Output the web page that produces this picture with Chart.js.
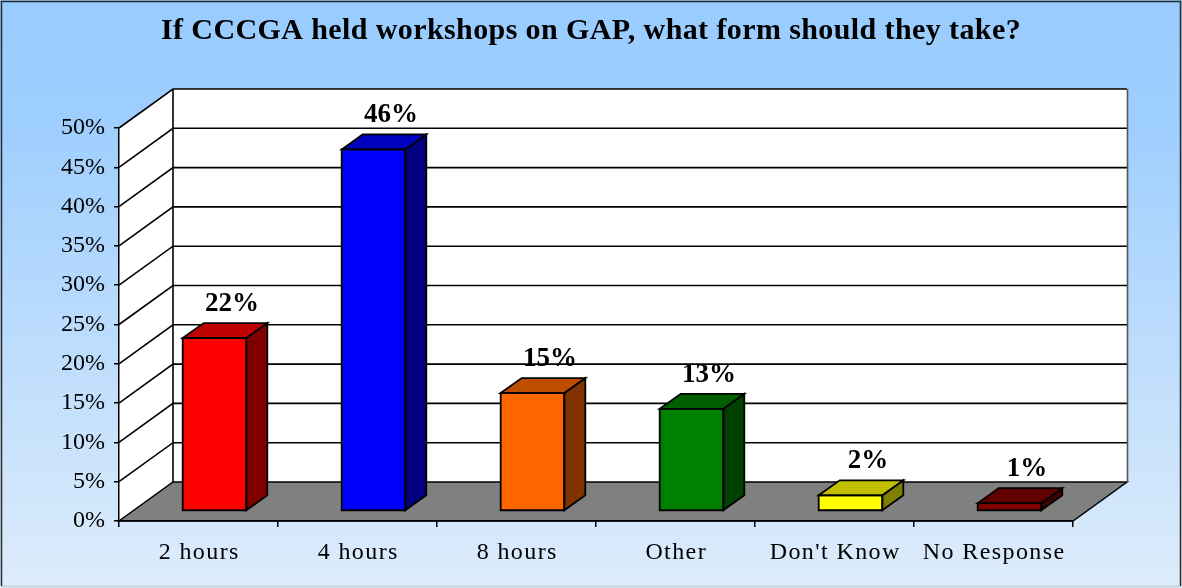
<!DOCTYPE html>
<html>
<head>
<meta charset="utf-8">
<title>CCCGA workshops on GAP</title>
<script src="https://cdn.jsdelivr.net/npm/chart.js@4.4.1/dist/chart.umd.min.js"></script>
<style>
  html, body { margin: 0; padding: 0; background: #fff; }
  canvas { display: block; }
</style>
</head>
<body>
<canvas id="chart" width="1182" height="588"></canvas>
<script>
// Data
const categories = ['2 hours', '4 hours', '8 hours', 'Other', "Don't Know", 'No Response'];
const percentages = [22, 46, 15, 13, 2, 1];
const barColors = ['#FF0000', '#0000FF', '#FF6600', '#008000', '#FFFF00', '#800000'];
const yMin = 0;
const yMax = 50;
const yStep = 5;
const titleText = 'If CCCGA held workshops on GAP, what form should they take?';

// 3D look
const WALL_DX = 54, WALL_DY = -39;   // depth of the walls / floor
const BAR_SHIFT_X = 16, BAR_SHIFT_Y = -10; // bars sit a bit behind the front edge
const BAR_DX = 21, BAR_DY = -15;     // depth of each bar
const SERIF = "'Liberation Serif', 'Times New Roman', serif";

const shade = (hex, k) => {
  const n = parseInt(hex.slice(1), 16);
  const r = Math.round(((n >> 16) & 255) * k);
  const g = Math.round(((n >> 8) & 255) * k);
  const b = Math.round((n & 255) * k);
  return `rgb(${r},${g},${b})`;
};

function poly(ctx, pts, fill, stroke, lw){
  ctx.beginPath();
  ctx.moveTo(pts[0][0], pts[0][1]);
  for(let i=1;i<pts.length;i++) ctx.lineTo(pts[i][0], pts[i][1]);
  ctx.closePath();
  if(fill){ ctx.fillStyle = fill; ctx.fill(); }
  if(stroke){ ctx.strokeStyle = stroke; ctx.lineWidth = lw || 1; ctx.stroke(); }
}

// wrap a draw method so it runs with some letter spacing / offset
function wrapDraw(obj, method, spacing, dx){
  if(!obj || !obj[method] || obj['_w_' + method]) return;
  const orig = obj[method].bind(obj);
  obj[method] = function(...args){
    const ctx = this.ctx;
    ctx.save();
    ctx.letterSpacing = spacing;
    if(dx) ctx.translate(dx, 0);
    orig(...args);
    ctx.restore();
  };
  obj['_w_' + method] = true;
}

// Background, walls, floor and gridlines
const backdrop = {
  id: 'backdrop',
  beforeDraw(chart){
    const {ctx, width, height, chartArea: ca} = chart;
    const yScale = chart.scales.y;

    // title centred on the whole canvas, x labels a bit spread like the original
    const tb = chart.titleBlock;
    wrapDraw(tb, 'draw', '0.4px', (width - (tb.left + tb.right)) / 2);
    wrapDraw(chart.scales.x, 'drawLabels', '1.4px', 0.7);

    ctx.save();
    const grad = ctx.createLinearGradient(0, 0, 0, height);
    grad.addColorStop(0, '#99CCFF');
    grad.addColorStop(0.2, '#9ECEFE');
    grad.addColorStop(1, '#DDECFB');
    ctx.fillStyle = grad;
    ctx.fillRect(0, 0, width, height);

    // outer frame
    ctx.strokeStyle = '#2a2a2a';
    ctx.lineWidth = 1.5;
    ctx.beginPath();
    ctx.moveTo(1.5, height - 2);
    ctx.lineTo(1.5, 1.5);
    ctx.lineTo(width - 1.5, 1.5);
    ctx.lineTo(width - 1.5, height - 2);
    ctx.stroke();
    ctx.strokeStyle = '#c4ccd6';
    ctx.beginPath();
    ctx.moveTo(1.5, height - 1.5);
    ctx.lineTo(width - 1.5, height - 1.5);
    ctx.stroke();

    const L = ca.left, R = ca.right, T = ca.top, B = ca.bottom;
    // back wall
    poly(ctx, [[L+WALL_DX, T+WALL_DY], [R+WALL_DX, T+WALL_DY], [R+WALL_DX, B+WALL_DY], [L+WALL_DX, B+WALL_DY]], '#fff');
    // left wall
    poly(ctx, [[L, T], [L+WALL_DX, T+WALL_DY], [L+WALL_DX, B+WALL_DY], [L, B]], '#fff');
    // floor
    poly(ctx, [[L, B], [R, B], [R+WALL_DX, B+WALL_DY], [L+WALL_DX, B+WALL_DY]], '#808080', '#000', 1.5);

    // gridlines on both walls
    ctx.strokeStyle = '#000';
    ctx.lineWidth = 1.6;
    for(let v = yMin + yStep; v <= yMax; v += yStep){
      const py = yScale.getPixelForValue(v);
      ctx.beginPath();
      ctx.moveTo(L, py);
      ctx.lineTo(L+WALL_DX, py+WALL_DY);
      ctx.lineTo(R+WALL_DX, py+WALL_DY);
      ctx.stroke();
    }
    // wall edges
    ctx.beginPath();
    ctx.moveTo(L+WALL_DX, T+WALL_DY);
    ctx.lineTo(L+WALL_DX, B+WALL_DY);
    ctx.stroke();
    ctx.strokeStyle = '#555';
    ctx.beginPath();
    ctx.moveTo(R+WALL_DX+0.5, T+WALL_DY);
    ctx.lineTo(R+WALL_DX+0.5, B+WALL_DY);
    ctx.stroke();
    ctx.restore();
  }
};

// Extrude the bars and put value labels on top
const bars3d = {
  id: 'bars3d',
  beforeDatasetsDraw(chart){
    chart.ctx.save();
    chart.ctx.translate(BAR_SHIFT_X, BAR_SHIFT_Y);
  },
  afterDatasetsDraw(chart){
    const ctx = chart.ctx;
    const meta = chart.getDatasetMeta(0);
    meta.data.forEach((bar, i) => {
      const {x, y, base, width} = bar.getProps(['x', 'y', 'base', 'width'], true);
      const left = x - width/2, right = x + width/2;
      const col = barColors[i];
      poly(ctx, [[right, y], [right+BAR_DX, y+BAR_DY], [right+BAR_DX, base+BAR_DY], [right, base]], shade(col, 0.5), '#000', 1.8);
      poly(ctx, [[left, y], [left+BAR_DX, y+BAR_DY], [right+BAR_DX, y+BAR_DY], [right, y]], shade(col, 0.75), '#000', 1.8);
      poly(ctx, [[left, y], [right, y], [right, base], [left, base]], null, '#000', 1.8);

      ctx.fillStyle = '#000';
      ctx.font = `bold 27px ${SERIF}`;
      ctx.textAlign = 'center';
      ctx.textBaseline = 'alphabetic';
      ctx.fillText(percentages[i] + '%', x + BAR_DX/2 + 7, y + BAR_DY - 12);
    });
    ctx.restore();
  }
};

Chart.defaults.font.family = SERIF;
Chart.defaults.color = '#000';

new Chart(document.getElementById('chart'), {
  type: 'bar',
  data: {
    labels: categories,
    datasets: [{
      data: percentages,
      backgroundColor: barColors,
      borderColor: '#000',
      borderWidth: 0,
      barPercentage: 0.4,
      categoryPercentage: 1,
    }]
  },
  options: {
    responsive: false,
    animation: false,
    devicePixelRatio: 1,
    layout: { padding: { left: 0, right: 109, top: 0, bottom: 0 } },
    plugins: {
      legend: { display: false },
      tooltip: { enabled: false },
      title: {
        display: true,
        text: titleText,
        font: { size: 30, weight: 'bold', family: SERIF },
        color: '#000',
        padding: { top: 13, bottom: 79 },
      },
    },
    scales: {
      x: {
        offset: true,
        grid: { offset: true, drawOnChartArea: false, drawTicks: true, tickLength: 6, color: '#000', lineWidth: 1.5 },
        border: { display: true, color: '#000', width: 1.5 },
        ticks: { font: { size: 24 }, padding: 11, color: '#000', maxRotation: 0, autoSkip: false },
        afterFit: s => { s.height = 67; },
      },
      y: {
        min: yMin,
        max: yMax,
        grid: { drawOnChartArea: false, drawTicks: true, tickLength: 5, color: '#000', lineWidth: 1.5 },
        border: { display: true, color: '#000', width: 1.5 },
        ticks: { stepSize: yStep, font: { size: 24 }, padding: 9, color: '#000', callback: v => v + '%' },
        afterFit: s => { s.width = 119; },
      }
    }
  },
  plugins: [backdrop, bars3d]
});
</script>
</body>
</html>
